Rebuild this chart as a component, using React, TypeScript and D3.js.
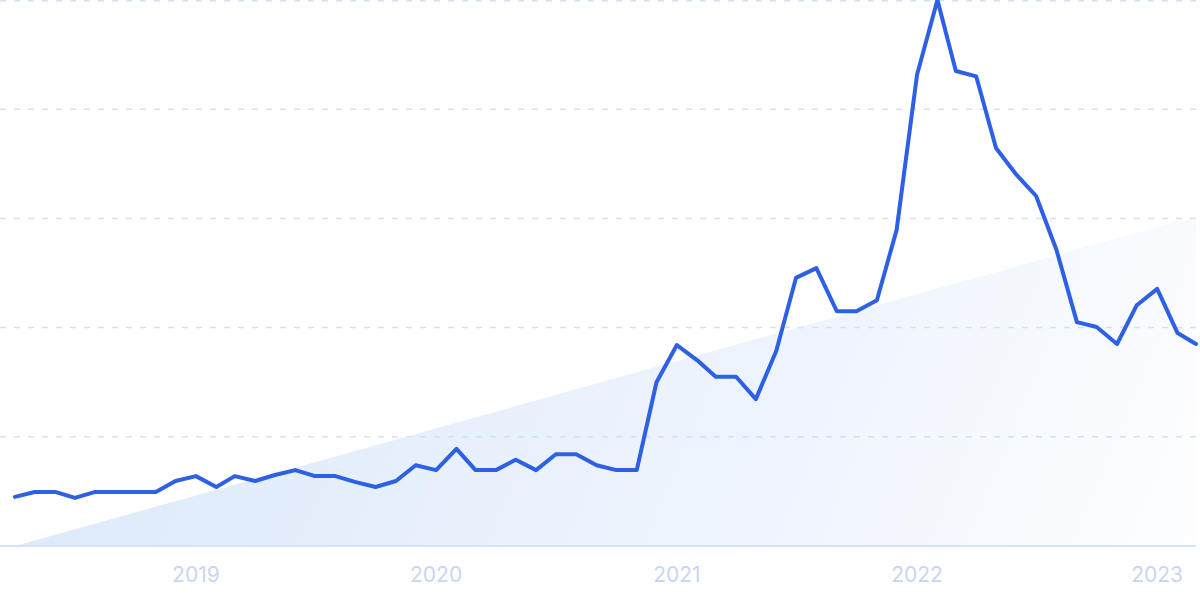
import React from 'react';
import * as d3 from 'd3';

// monthly search interest, Apr 2018 – Mar 2023 (peak = 100)
const months: string[] = [
  '2018-04', '2018-05', '2018-06', '2018-07', '2018-08', '2018-09', '2018-10', '2018-11', '2018-12',
  '2019-01', '2019-02', '2019-03', '2019-04', '2019-05', '2019-06', '2019-07', '2019-08', '2019-09',
  '2019-10', '2019-11', '2019-12', '2020-01', '2020-02', '2020-03', '2020-04', '2020-05', '2020-06',
  '2020-07', '2020-08', '2020-09', '2020-10', '2020-11', '2020-12', '2021-01', '2021-02', '2021-03',
  '2021-04', '2021-05', '2021-06', '2021-07', '2021-08', '2021-09', '2021-10', '2021-11', '2021-12',
  '2022-01', '2022-02', '2022-03', '2022-04', '2022-05', '2022-06', '2022-07', '2022-08', '2022-09',
  '2022-10', '2022-11', '2022-12', '2023-01', '2023-02', '2023-03',
];

const interest: number[] = [
  9.0, 9.9, 9.9, 8.8, 9.9, 9.9, 9.9, 9.9, 11.9,
  12.8, 10.8, 12.8, 11.9, 13.0, 13.9, 12.8, 12.8, 11.7,
  10.8, 11.9, 14.8, 13.9, 17.8, 13.9, 13.9, 15.8, 13.9,
  16.8, 16.8, 14.8, 13.9, 13.9, 30.0, 36.8, 34.0, 31.0,
  31.0, 26.9, 35.7, 49.1, 50.9, 43.0, 43.0, 45.0, 57.9,
  86.3, 100, 87.0, 86.0, 72.9, 68.0, 64.1, 54.2, 41.0,
  40.1, 37.0, 44.1, 47.1, 39.0, 37.0,
];

// linear trend, first month -> last month
const trend: number[] = [0, 60.4];

const yTicks: number[] = [0, 20, 40, 60, 80, 100];
const yearTicks: string[] = ['2019', '2020', '2021', '2022', '2023'];

const W = 1200;
const H = 599;

export default function App() {
  const parse = d3.timeParse('%Y-%m');
  const dates = months.map((m) => parse(m) as Date);

  const x = d3.scaleTime()
    .domain([dates[0], dates[dates.length - 1]])
    .range([15, 1196]);
  const y = d3.scaleLinear().domain([0, 100]).range([546, 0]);

  const line = d3.line<number>()
    .x((_, i) => x(dates[i]))
    .y((d) => y(d));

  const trendPts: [Date, number][] = [
    [dates[0], trend[0]],
    [dates[dates.length - 1], trend[1]],
  ];
  const trendArea = d3.area<[Date, number]>()
    .x((d) => x(d[0]))
    .y0(y(0))
    .y1((d) => y(Math.max(0, d[1])));

  const x1 = x.range()[1];

  return (
    <div style={{ position: 'absolute', left: 0, top: 0 }}>
      <svg width={W} height={H} style={{ display: 'block', background: '#fff' }}>
        <defs>
          <linearGradient id="trend-fill" gradientUnits="userSpaceOnUse" x1={0} y1={200} x2={1200} y2={700}>
            <stop offset="0%" stopColor="#dae8fa" />
            <stop offset="60%" stopColor="#eef4fd" />
            <stop offset="100%" stopColor="#ffffff" />
          </linearGradient>
        </defs>

        <path d={trendArea(trendPts) || ''} fill="url(#trend-fill)" />

        {yTicks.filter((t) => t > 0).map((t) => (
          <line
            key={t}
            x1={0}
            x2={x1}
            y1={y(t) + (t === 100 ? 0.75 : 0)}
            y2={y(t) + (t === 100 ? 0.75 : 0)}
            stroke="#d3e2f7"
            strokeWidth={1.5}
            strokeDasharray="6,8"
          />
        ))}

        <line x1={0} x2={x1} y1={y(0)} y2={y(0)} stroke="#d3e4fa" strokeWidth={2} />

        <path
          d={line(interest) || ''}
          fill="none"
          stroke="#2e60e5"
          strokeWidth={4}
          strokeLinejoin="round"
          strokeLinecap="round"
        />

        {yearTicks.map((yr) => (
          <text
            key={yr}
            x={x(parse(`${yr}-01`) as Date)}
            y={582}
            textAnchor="middle"
            fontFamily="Inter, 'Noto Sans', sans-serif"
            fontSize={21}
            fill="#c9d5f2"
          >
            {yr}
          </text>
        ))}
      </svg>
    </div>
  );
}
